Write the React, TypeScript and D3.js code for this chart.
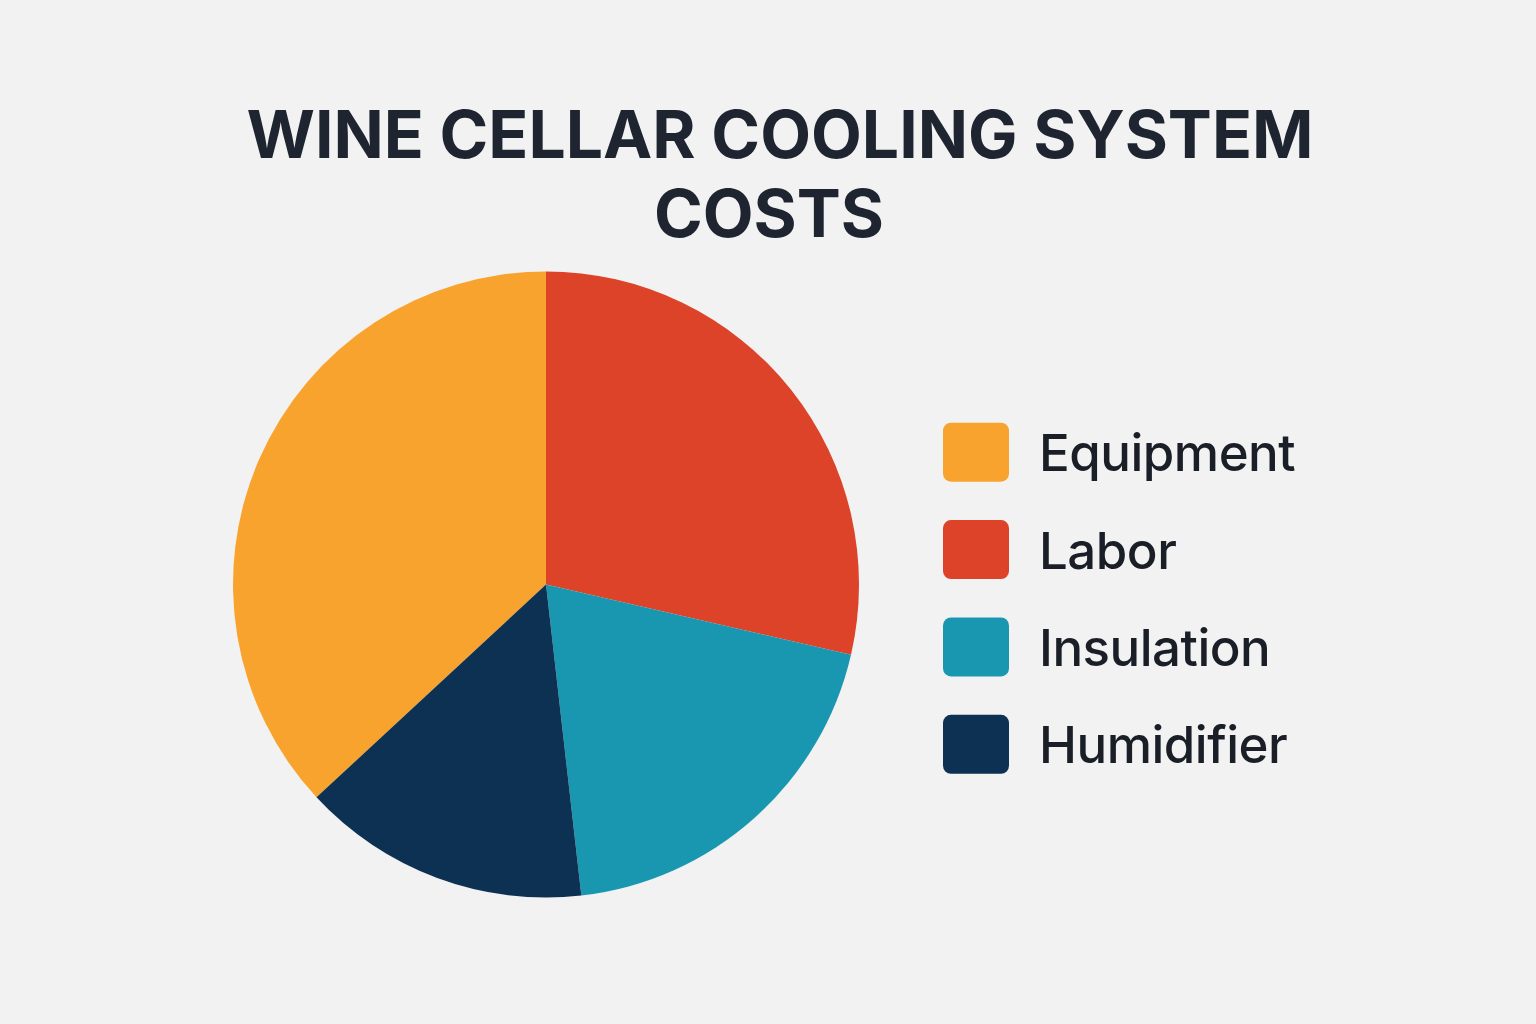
import React from "react";
import * as d3 from "d3";

const categories = ["Equipment", "Labor", "Insulation", "Humidifier"];
const values = [36.9, 28.6, 19.6, 14.9];
const colors = ["#F9A32F", "#DC4329", "#1A97B0", "#0C3152"];
const titleLines = ["WINE CELLAR COOLING SYSTEM", "COSTS"];
const titleCenters = [780, 769];

export default function App() {
  const width = 1536;
  const height = 1024;
  const cx = 546;
  const cy = 584.5;
  const r = 313;
  const total = d3.sum(values);
  const startAngle = -(values[0] / total) * 2 * Math.PI;
  const pie = d3
    .pie<number>()
    .sort(null)
    .value((d) => d)
    .startAngle(startAngle)
    .endAngle(startAngle + 2 * Math.PI);
  const arcs = pie(values);
  const arc = d3.arc<d3.PieArcDatum<number>>().innerRadius(0).outerRadius(r);
  const legendY = d3.scaleBand<string>().domain(categories).range([403.5, 793]).paddingInner(0);

  return (
    <svg
      width={width}
      height={height}
      style={{ position: "absolute", left: 0, top: 0, background: "#F2F2F2" }}
    >
      <rect x={0} y={0} width={width} height={height} fill="#F2F2F2" />
      {titleLines.map((t, i) => (
        <text
          key={t}
          x={titleCenters[i]}
          y={158 + i * 79}
          textAnchor="middle"
          fontFamily="Inter, 'Noto Sans', sans-serif"
          fontWeight={700}
          fontSize={66}
          fill="#1E2430"
        >
          {t}
        </text>
      ))}
      <g transform={`translate(${cx},${cy})`}>
        {arcs.map((a, i) => (
          <path key={categories[i]} d={arc(a) || ""} fill={colors[i]} />
        ))}
      </g>
      {categories.map((c, i) => {
        const y0 = legendY(c)! + legendY.bandwidth() / 2;
        return (
          <g key={c}>
            <rect x={943} y={y0 - 29.5} width={66} height={59} rx={8} fill={colors[i]} />
            <text
              x={1039}
              y={y0 + 19}
              fontFamily="Inter, 'Noto Sans', sans-serif"
              fontWeight={500}
              fontSize={51}
              letterSpacing={-0.5}
              fill="#1A1F27"
            >
              {c}
            </text>
          </g>
        );
      })}
    </svg>
  );
}
